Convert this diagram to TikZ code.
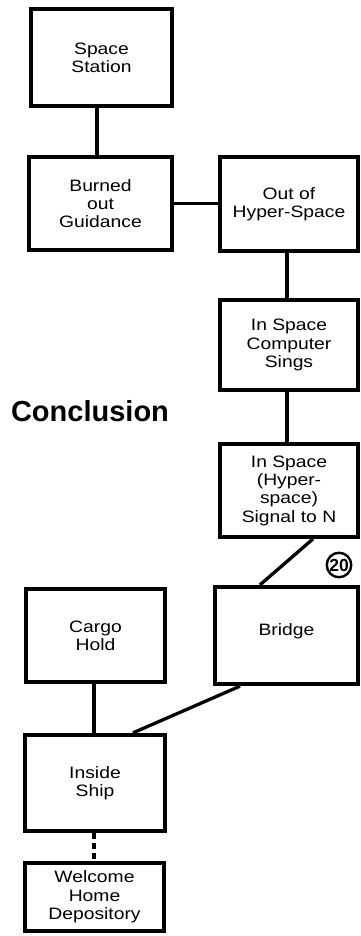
\documentclass[tikz,border=0pt]{standalone}
\usepackage{fontspec}
\setmainfont{Liberation Sans}
\newfontfamily\boxfont{Liberation Sans}[FakeStretch=1.17]
\begin{document}
\begin{tikzpicture}[x=1pt,y=-1pt]
\tikzset{
  box/.style={draw, line width=3.8pt, align=center, inner sep=0pt,
    font=\boxfont\fontsize{16.5}{18.3}\selectfont},
  boxtext/.style={align=center, inner sep=0pt,
    font=\boxfont\fontsize{16.5}{18.3}\selectfont},
  link/.style={line width=3.3pt},
  numcircle/.style={circle, draw, line width=2.4pt, minimum size=24.5pt, inner sep=0pt,
    font=\bfseries\fontsize{17.5}{17.5}\selectfont},
  headline/.style={inner sep=0pt, font=\bfseries\fontsize{29}{30}\selectfont}
}
\useasboundingbox (0,0) rectangle (361,936);
\node[box, minimum width=141.5pt, minimum height=97.5pt] (station) at (101.5,57.5) {Space\\Station};
\node[box, minimum width=143.5pt, minimum height=93.5pt] (burned) at (100.5,203.5) {Burned\\out\\Guidance};
\node[box, minimum width=138.5pt, minimum height=94.5pt] (out) at (289,204) {Out of\\Hyper-Space};
\node[box, minimum width=138.5pt, minimum height=90.5pt] (computer) at (289,345) {In Space\\Computer\\Sings};
\node[box, minimum width=138.5pt, minimum height=93pt] (signal) at (289,490.5) {In Space\\(Hyper-\\space)\\Signal to N};
\node[box, minimum width=143.5pt, minimum height=97.5pt] (bridge) at (286.5,635.5) {};
\node[boxtext] (bridgetext) at (286.5,631) {Bridge};
\node[box, minimum width=139.5pt, minimum height=93.5pt] (cargo) at (95.5,635.5) {Cargo\\Hold};
\node[box, minimum width=140.5pt, minimum height=96.5pt] (inside) at (95,783) {Inside\\Ship};
\node[box, minimum width=139.5pt, minimum height=68.5pt] (welcome) at (94.5,897) {Welcome\\Home\\Depository};
\node[headline] (concl) at (90,411) {Conclusion};
\node[numcircle] (num) at (339,565) {20};
% connectors
\draw[link] ([xshift=-4.5pt]station.south) -- ([xshift=-4.5pt]station.south |- burned.north);
\draw[link] (burned.east) -- (burned.east -| out.west);
\draw[link] ([xshift=-2pt]out.south) -- ([xshift=-2pt]out.south |- computer.north);
\draw[link] ([xshift=-2pt]computer.south) -- ([xshift=-2pt]computer.south |- signal.north);
\draw[link] ([xshift=24pt]signal.south) -- ([xshift=-26.5pt]bridge.north);
\draw[link] ([xshift=-1.5pt]cargo.south) -- ([xshift=-1.5pt]cargo.south |- inside.north);
\draw[link] ([xshift=-46.5pt]bridge.south) -- ([xshift=38pt]inside.north);
\draw[link, dash pattern=on 6pt off 4pt] ([xshift=-1pt]inside.south) -- ([xshift=-1pt]inside.south |- welcome.north);
\end{tikzpicture}
\end{document}
